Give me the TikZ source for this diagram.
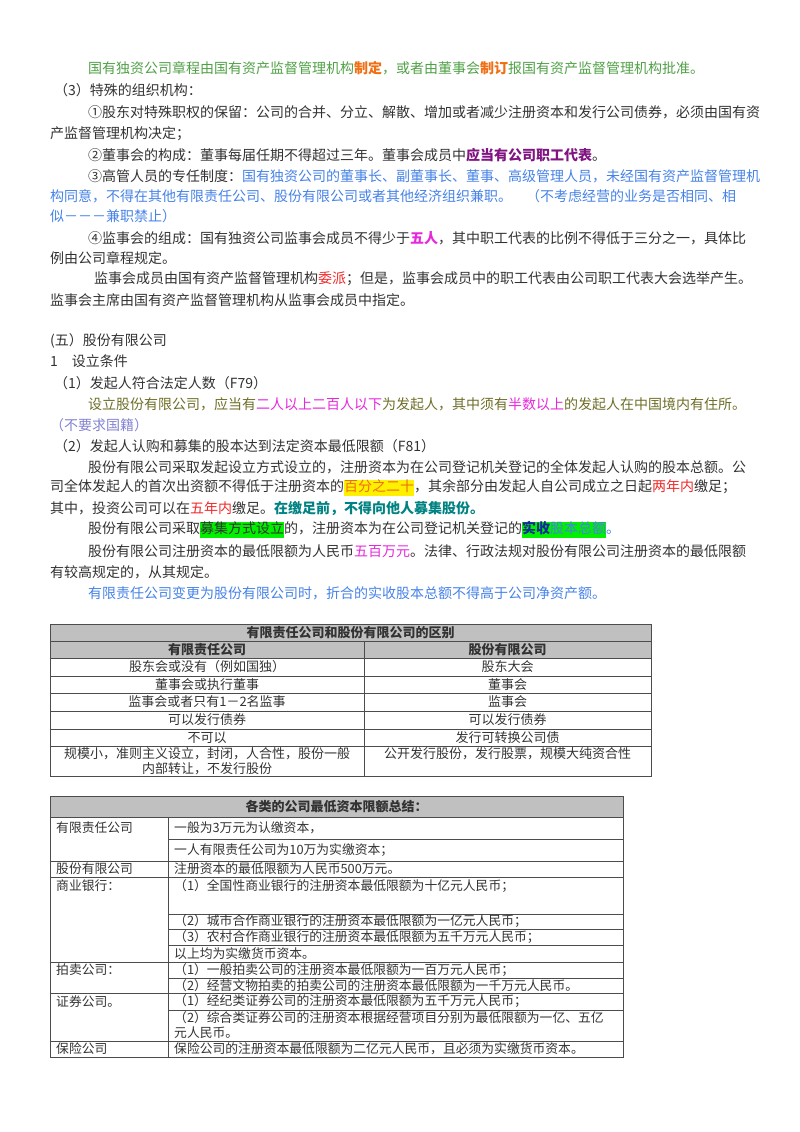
\documentclass[tikz,border=0pt]{standalone}
\usepackage{fontspec}
\setmainfont{Noto Sans CJK SC}
\usepackage{xcolor}
\definecolor{tgreen}{RGB}{80,160,70}
\definecolor{torange}{RGB}{240,110,20}
\definecolor{tpurple}{RGB}{128,20,128}
\definecolor{tblue}{RGB}{70,130,230}
\definecolor{tmag}{RGB}{230,40,220}
\definecolor{tolive}{RGB}{110,110,40}
\definecolor{tlav}{RGB}{130,130,210}
\definecolor{tred}{RGB}{240,40,40}
\definecolor{tteal}{RGB}{0,130,130}
\definecolor{hgreen}{RGB}{0,240,0}
\definecolor{hyel}{RGB}{255,240,0}
\definecolor{tdblue}{RGB}{20,40,160}
\definecolor{hgray}{RGB}{192,192,192}
\definecolor{tgray}{RGB}{50,50,50}
\newcommand{\hl}[2]{{\setlength{\fboxsep}{0pt}\colorbox{#1}{\strut #2}}}
\begin{document}
\begin{tikzpicture}[x=1pt,y=-1pt,
  tx/.style={anchor=west,inner sep=0pt,font=\fontsize{14}{15}\selectfont,text=tgray},
  tb/.style={inner sep=0pt,font=\fontsize{13}{14}\selectfont,text=tgray,align=center},
  tl/.style={anchor=west,inner sep=0pt,font=\fontsize{12.8}{14}\selectfont,text=tgray},
  grid/.style={draw=black!70,line width=0.7pt}]
\useasboundingbox (0,0) rectangle (800,1132);
% top section
\node[tx,text=tgreen] (l1) at (88,68) {国有独资公司章程由国有资产监督管理机构\textcolor{torange}{\textbf{制定}}，或者由董事会\textcolor{torange}{\textbf{制订}}报国有资产监督管理机构批准。};
\node[tx] (l2) at (54,90) {（3）特殊的组织机构：};
\node[tx] (l3) at (88,112) {①股东对特殊职权的保留：公司的合并、分立、解散、增加或者减少注册资本和发行公司债券，必须由国有资};
\node[tx] (l4) at (50,134) {产监督管理机构决定；};
\node[tx] (l5) at (88,155) {②董事会的构成：董事每届任期不得超过三年。董事会成员中\textcolor{tpurple}{\textbf{应当有公司职工代表}}。};
\node[tx] (l6) at (88,176) {③高管人员的专任制度：\textcolor{tblue}{国有独资公司的董事长、副董事长、董事、高级管理人员，未经国有资产监督管理机}};
\node[tx,text=tblue] (l7) at (50,196) {构同意，不得在其他有限责任公司、股份有限公司或者其他经济组织兼职。\hspace{1em}（不考虑经营的业务是否相同、相};
\node[tx,text=tblue] (l8) at (50,216) {似－－－兼职禁止）};
\node[tx] (l9) at (88,238) {④监事会的组成：国有独资公司监事会成员不得少于\textcolor{tmag}{\textbf{五人}}，其中职工代表的比例不得低于三分之一，具体比};
\node[tx] (l10) at (50,258) {例由公司章程规定。};
\node[tx] (l11) at (94,279) {监事会成员由国有资产监督管理机构\textcolor{tred}{委派}；但是，监事会成员中的职工代表由公司职工代表大会选举产生。};
\node[tx] (l12) at (50,300) {监事会主席由国有资产监督管理机构从监事会成员中指定。};
% section 5
\node[tx] (s1) at (50,341) {(五）股份有限公司};
\node[tx] (s2) at (50,361) {1\quad 设立条件};
\node[tx] (s3) at (54,383) {（1）发起人符合法定人数（F79）};
\node[tx,text=tolive] (s4) at (88,404) {设立股份有限公司，应当有\textcolor{tmag}{二人以上二百人以下}为发起人，其中须有\textcolor{tmag}{半数以上}的发起人在中国境内有住所。};
\node[tx,text=tlav] (s5) at (50,425) {（不要求国籍）};
\node[tx] (s6) at (54,446) {（2）发起人认购和募集的股本达到法定资本最低限额（F81）};
\node[tx] (s7) at (88,467) {股份有限公司采取发起设立方式设立的，注册资本为在公司登记机关登记的全体发起人认购的股本总额。公};
\node[tx] (s8) at (50,488) {司全体发起人的首次出资额不得低于注册资本的\hl{hyel}{\textcolor{torange}{百分之二十}}，其余部分由发起人自公司成立之日起\textcolor{tred}{两年内}缴足；};
\node[tx] (s9) at (50,509) {其中，投资公司可以在\textcolor{tred}{五年内}缴足。\textcolor{tteal}{\textbf{在缴足前，不得向他人募集股份。}}};
\node[tx] (s10) at (88,530) {股份有限公司采取\hl{hgreen}{募集方式设立}的，注册资本为在公司登记机关登记的\hl{hgreen}{\textcolor{tdblue}{\textbf{实收}}\textcolor{tblue}{股本总额}}\textcolor{tblue}{。}};
\node[tx] (s11) at (88,551) {股份有限公司注册资本的最低限额为人民币\textcolor{tmag}{五百万元}。法律、行政法规对股份有限公司注册资本的最低限额};
\node[tx] (s12) at (50,572) {有较高规定的，从其规定。};
\node[tx,text=tblue] (s13) at (88,593) {有限责任公司变更为股份有限公司时，折合的实收股本总额不得高于公司净资产额。};
% table 1
\fill[hgray] (50,624) rectangle (651,658);
\draw[grid] (50,624) rectangle (651,776);
\foreach \y in {641,658,676,693,711,729,746} \draw[grid] (50,\y) -- (651,\y);
\draw[grid] (364,641) -- (364,776);
\node[tb] (t1h) at (350.5,632.5) {\textbf{有限责任公司和股份有限公司的区别}};
\node[tb] (t1a) at (207,649.5) {\textbf{有限责任公司}};
\node[tb] (t1b) at (507.5,649.5) {\textbf{股份有限公司}};
\node[tb] (a1) at (207,667) {股东会或没有（例如国独）};
\node[tb] (b1) at (507.5,667) {股东大会};
\node[tb] (a2) at (207,684.5) {董事会或执行董事};
\node[tb] (b2) at (507.5,684.5) {董事会};
\node[tb] (a3) at (207,702) {监事会或者只有1－2名监事};
\node[tb] (b3) at (507.5,702) {监事会};
\node[tb] (a4) at (207,720) {可以发行债券};
\node[tb] (b4) at (507.5,720) {可以发行债券};
\node[tb] (a5) at (207,737.5) {不可以};
\node[tb] (b5) at (507.5,737.5) {发行可转换公司债};
\node[tb,font=\fontsize{13}{15}\selectfont] (a6) at (207,761) {规模小，准则主义设立，封闭，人合性，股份一般\\内部转让，不发行股份};
\node[tb] (b6) at (507.5,754) {公开发行股份，发行股票，规模大纯资合性};
% table 2
\fill[hgray] (50,796) rectangle (623,817);
\draw[grid] (50,796) rectangle (623,1057);
\foreach \y in {817,861,877,962,993,1041} \draw[grid] (50,\y) -- (623,\y);
\foreach \y in {839,914,929,945,978,1010} \draw[grid] (168,\y) -- (623,\y);
\draw[grid] (168,817) -- (168,1057);
\node[tb] (t2h) at (336.5,806.5) {\textbf{各类的公司最低资本限额总结：}};
\node[tl] (c1) at (56,828) {有限责任公司};
\node[tl] (d1) at (174,828) {一般为3万元为认缴资本，};
\node[tl] (d2) at (174,850) {一人有限责任公司为10万为实缴资本；};
\node[tl] (c2) at (56,869) {股份有限公司};
\node[tl] (d3) at (174,869) {注册资本的最低限额为人民币500万元。};
\node[tl] (c3) at (56,886) {商业银行：};
\node[tl] (d4) at (174,886) {（1）全国性商业银行的注册资本最低限额为十亿元人民币；};
\node[tl] (d5) at (174,921.5) {（2）城市合作商业银行的注册资本最低限额为一亿元人民币；};
\node[tl] (d6) at (174,937) {（3）农村合作商业银行的注册资本最低限额为五千万元人民币；};
\node[tl] (d7) at (174,953.5) {以上均为实缴货币资本。};
\node[tl] (c4) at (56,970) {拍卖公司：};
\node[tl] (d8) at (174,970) {（1）一般拍卖公司的注册资本最低限额为一百万元人民币；};
\node[tl] (d9) at (174,985.5) {（2）经营文物拍卖的拍卖公司的注册资本最低限额为一千万元人民币。};
\node[tl] (c5) at (56,1001.5) {证券公司。};
\node[tl] (d10) at (174,1001.5) {（1）经纪类证券公司的注册资本最低限额为五千万元人民币；};
\node[tl] (d11) at (174,1018) {（2）综合类证券公司的注册资本根据经营项目分别为最低限额为一亿、五亿};
\node[tl] (d12) at (174,1033) {元人民币。};
\node[tl] (c6) at (56,1049) {保险公司};
\node[tl] (d13) at (174,1049) {保险公司的注册资本最低限额为二亿元人民币，且必须为实缴货币资本。};
\end{tikzpicture}
\end{document}
